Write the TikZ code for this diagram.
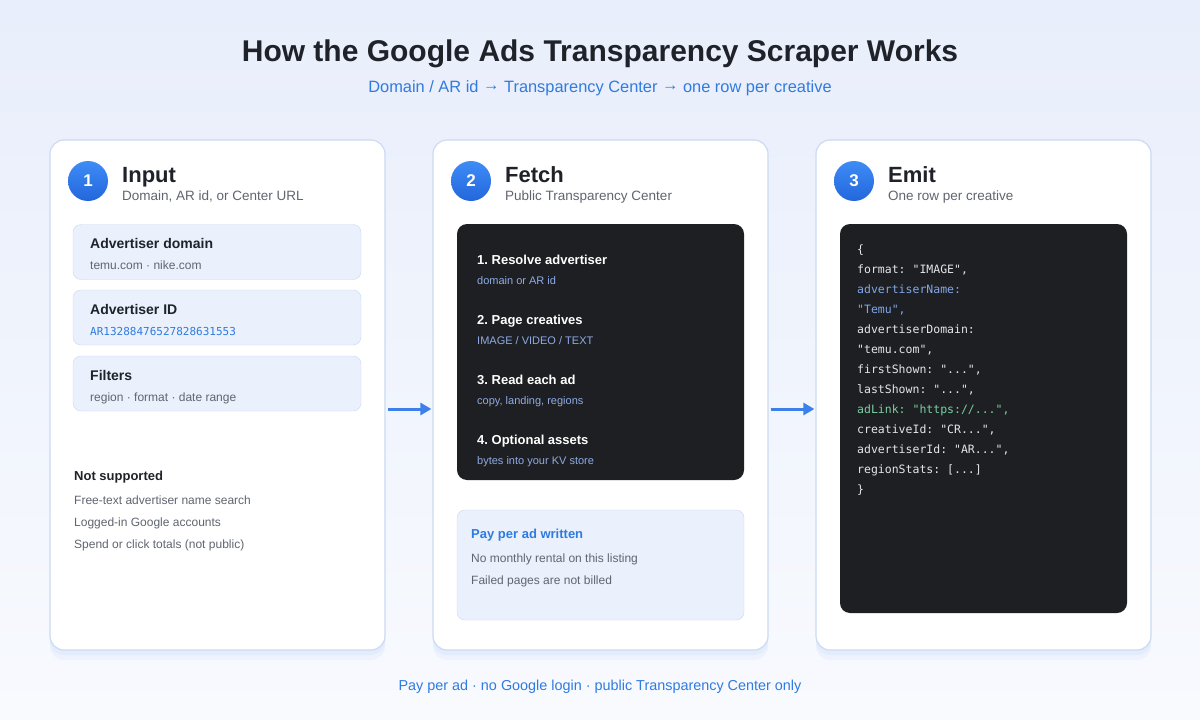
\documentclass[tikz,border=0pt]{standalone}
\usepackage{fontspec}
\setmainfont{Liberation Sans}
\setmonofont{DejaVu Sans Mono}
\usetikzlibrary{arrows.meta}
\frenchspacing

\definecolor{ink}{HTML}{1F2329}
\definecolor{muted}{HTML}{5F6670}
\definecolor{accent}{HTML}{2F7BE0}
\definecolor{bgtop}{HTML}{E8EEFB}
\definecolor{bgbot}{HTML}{F8FAFE}
\definecolor{cardline}{HTML}{CCDAF2}
\definecolor{boxfill}{HTML}{EAF1FC}
\definecolor{boxline}{HTML}{C9D8F1}
\definecolor{darkbg}{HTML}{1E1F22}
\definecolor{darksub}{HTML}{8EABE6}
\definecolor{codefg}{HTML}{E4E6EA}
\definecolor{codeblue}{HTML}{7FA7EA}
\definecolor{codegreen}{HTML}{79D0A0}
\definecolor{flowblue}{HTML}{3D80EC}
\definecolor{badgetop}{HTML}{3E8CF6}
\definecolor{badgebot}{HTML}{2366DC}

\newcommand{\px}[1]{\fontsize{#1}{#1}\selectfont}
\newcommand{\arr}{\raisebox{1.6pt}{→}}

\begin{document}
\begin{tikzpicture}[x=1pt,y=-1pt,
    card/.style={draw=cardline,line width=1.2pt,fill=white,rounded corners=14pt,
      minimum width=335pt,minimum height=510pt,inner sep=0pt,
      preaction={fill=flowblue,fill opacity=0.05,draw=none,transform canvas={yshift=-10pt}},
      preaction={fill=flowblue,fill opacity=0.05,draw=none,transform canvas={yshift=-5pt}}},
    badge/.style={circle,minimum size=40pt,inner sep=0pt,top color=badgetop,bottom color=badgebot,
      text=white,font=\bfseries\px{17}},
    heading/.style={anchor=base west,inner sep=0pt,text=ink,font=\bfseries\px{22}},
    subhead/.style={anchor=base west,inner sep=0pt,text=muted,font=\px{13.5}},
    inbox/.style={draw=boxline,fill=boxfill,rounded corners=8pt,minimum width=288pt,
      minimum height=55pt,inner sep=0pt},
    boxtitle/.style={anchor=base west,inner sep=0pt,text=ink,font=\bfseries\px{14}},
    boxsub/.style={anchor=base west,inner sep=0pt,text=muted,font=\px{12}},
    darkbox/.style={fill=darkbg,rounded corners=10pt,minimum width=287pt,inner sep=0pt},
    steptitle/.style={anchor=base west,inner sep=0pt,text=white,font=\bfseries\px{13}},
    stepsub/.style={anchor=base west,inner sep=0pt,text=darksub,font=\px{11}},
    codeln/.style={anchor=base west,inner sep=0pt,text=codefg,font=\ttfamily\px{11.5}},
    flow/.style={draw=flowblue,line width=3pt,-{Triangle[length=11pt,width=12pt]}}]

	% background and bounding box
	\shade[top color=bgtop,bottom color=bgbot] (0,0) rectangle (1200,720);
	\useasboundingbox (0,0) rectangle (1200,720);

	% title
	\node (title)[anchor=base,inner sep=0pt,text=ink,font=\bfseries\px{30}] at (600,61) {How the Google Ads Transparency Scraper Works};
	\node (subtitle)[anchor=base,inner sep=0pt,text=accent,font=\px{16.4}] at (600,92) {Domain / AR id \arr{} Transparency Center \arr{} one row per creative};

	% cards
	\node (input)[card] at (217.5,395) {};
	\node (fetch)[card] at (600.5,395) {};
	\node (emit)[card] at (983.5,395) {};

	% card 1: input
	\node (b1)[badge] at (88,181) {1};
	\node (inputhd)[heading] at (122,182) {Input};
	\node (inputsub)[subhead] at (122,200) {Domain, AR id, or Center URL};

	\node (domain)[inbox] at (217,252) {};
	\node (domaint)[boxtitle] at (90,248) {Advertiser domain};
	\node (domains)[boxsub] at (90,269) {temu.com · nike.com};

	\node (arid)[inbox] at (217,317.5) {};
	\node (aridt)[boxtitle] at (90,314) {Advertiser ID};
	\node (arids)[boxsub,text=accent,font=\ttfamily\px{11}] at (90,335) {AR13288476527828631553};

	\node (filters)[inbox] at (217,383.5) {};
	\node (filterst)[boxtitle] at (90,380) {Filters};
	\node (filterss)[boxsub] at (90,401) {region · format · date range};

	\node (notsup)[boxtitle,font=\bfseries\px{13}] at (74,480) {Not supported};
	\node (ns1)[boxsub] at (74,504) {Free-text advertiser name search};
	\node (ns2)[boxsub] at (74,526) {Logged-in Google accounts};
	\node (ns3)[boxsub] at (74,548) {Spend or click totals (not public)};

	% card 2: fetch
	\node (b2)[badge] at (471,181) {2};
	\node (fetchhd)[heading] at (505,182) {Fetch};
	\node (fetchsub)[subhead] at (505,200) {Public Transparency Center};

	\node (steps)[darkbox,minimum height=256pt] at (600.5,352) {};
	\node (s1)[steptitle] at (477,264) {1. Resolve advertiser};
	\node (s1b)[stepsub] at (477,284) {domain or AR id};
	\node (s2)[steptitle] at (477,324) {2. Page creatives};
	\node (s2b)[stepsub] at (477,344) {IMAGE / VIDEO / TEXT};
	\node (s3)[steptitle] at (477,384) {3. Read each ad};
	\node (s3b)[stepsub] at (477,404) {copy, landing, regions};
	\node (s4)[steptitle] at (477,444) {4. Optional assets};
	\node (s4b)[stepsub] at (477,464) {bytes into your KV store};

	\node (pay)[inbox,minimum width=287pt,minimum height=110pt] at (600.5,565) {};
	\node (payt)[boxtitle,text=accent,font=\bfseries\px{13}] at (471,538) {Pay per ad written};
	\node (pay1)[boxsub] at (471,562) {No monthly rental on this listing};
	\node (pay2)[boxsub] at (471,584) {Failed pages are not billed};

	% card 3: emit
	\node (b3)[badge] at (854,181) {3};
	\node (emithd)[heading] at (888,182) {Emit};
	\node (emitsub)[subhead] at (888,200) {One row per creative};

	\node (json)[darkbox,minimum height=389pt] at (983.5,418.5) {};
	\node (c0)[codeln] at (857,253) {\{};
	\node (c1)[codeln] at (857,273) {format: "IMAGE",};
	\node (c2)[codeln,text=codeblue] at (857,293) {advertiserName:};
	\node (c3)[codeln,text=codeblue] at (857,313) {"Temu",};
	\node (c4)[codeln] at (857,333) {advertiserDomain:};
	\node (c5)[codeln] at (857,353) {"temu.com",};
	\node (c6)[codeln] at (857,373) {firstShown: "...",};
	\node (c7)[codeln] at (857,393) {lastShown: "...",};
	\node (c8)[codeln,text=codegreen] at (857,413) {adLink: "https://...",};
	\node (c9)[codeln] at (857,433) {creativeId: "CR...",};
	\node (c10)[codeln] at (857,453) {advertiserId: "AR...",};
	\node (c11)[codeln] at (857,473) {regionStats: [...]};
	\node (c12)[codeln] at (857,493) {\}};

	% flow arrows
	\draw[flow,shorten <=2pt,shorten >=1pt] ([yshift=-14pt]input.east) -- ([yshift=-14pt]fetch.west);
	\draw[flow,shorten <=2pt,shorten >=1pt] ([yshift=-14pt]fetch.east) -- ([yshift=-14pt]emit.west);

	% footer
	\node (footer)[anchor=base,inner sep=0pt,text=accent,font=\px{14.4}] at (600,690) {Pay per ad · no Google login · public Transparency Center only};
\end{tikzpicture}
\end{document}
